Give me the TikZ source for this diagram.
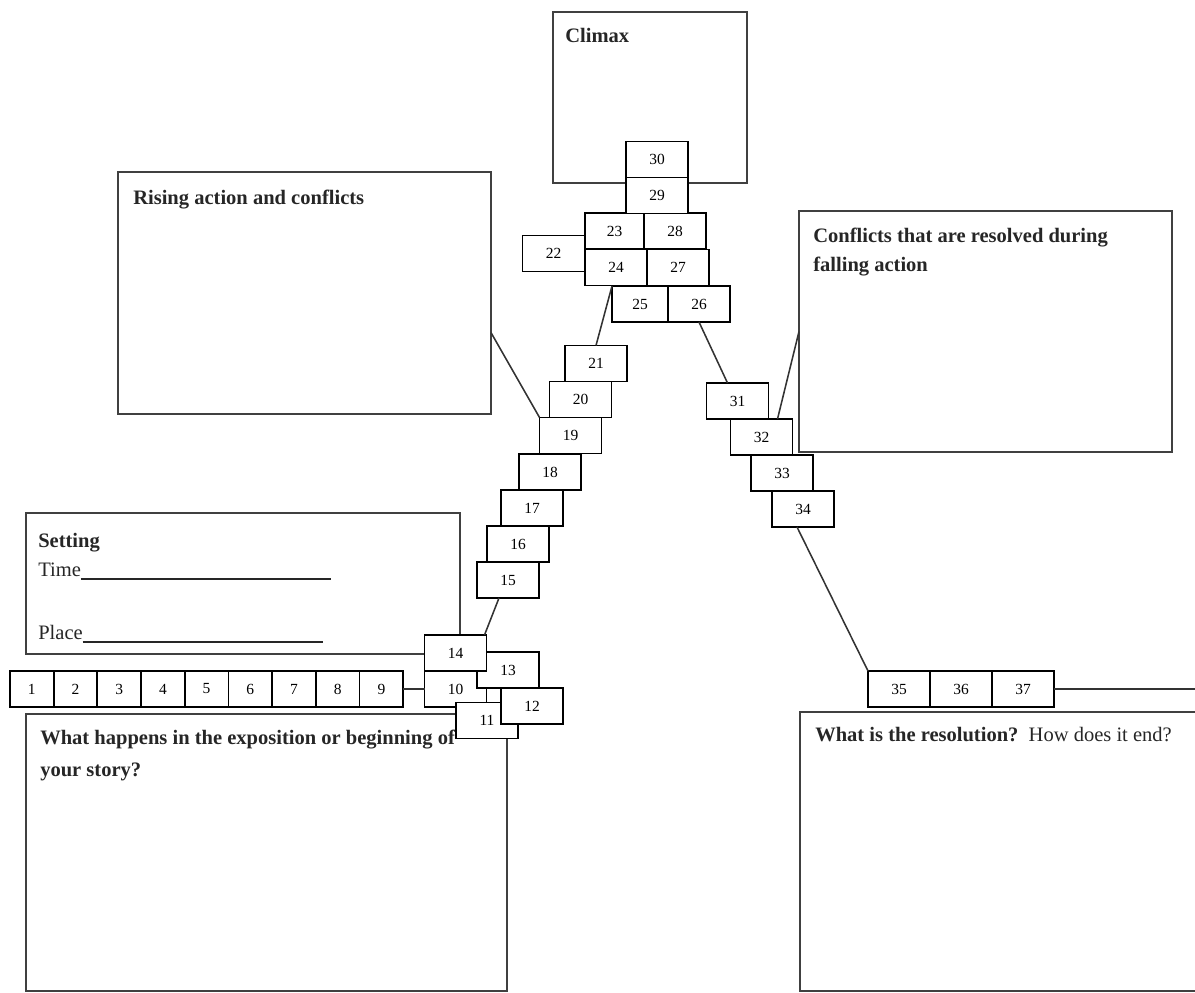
\documentclass[tikz,border=0pt]{standalone}
\usepackage{fontspec}
\setmainfont{Liberation Serif}
\usetikzlibrary{positioning}

\begin{document}
\begin{tikzpicture}
\tikzstyle{every node}=[font=\fontsize{11}{13}\selectfont]
\tikzstyle{bigbox}=[draw=black!75, line width=1.5pt, inner sep=0pt, outer sep=0pt]
\tikzstyle{nbox}=[draw, fill=white, line width=1.3pt, minimum width=1.55cm, minimum height=0.9cm, inner sep=0pt, outer sep=0pt]
\tikzstyle{cell}=[nbox, minimum width=1.0925cm]
\tikzstyle{heading}=[anchor=base west, inner sep=0pt, text=black!85, font=\fontsize{14.6}{17}\selectfont\bfseries]
\tikzstyle{bodytext}=[heading, font=\fontsize{14.6}{17}\selectfont]
\tikzstyle{link}=[line width=1.1pt, black!80]
\clip (0,0) rectangle (29.875,24.825);
\node (climax) [bigbox, minimum width=4.85cm, minimum height=4.275cm] at (16.25,22.3875) {};
\node (rising) [bigbox, minimum width=9.325cm, minimum height=6.05cm] at (7.6125,17.5) {};
\node (falling) [bigbox, minimum width=9.325cm, minimum height=6.025cm] at (24.6375,16.5375) {};
\node (setting) [bigbox, minimum width=10.85cm, minimum height=3.525cm] at (6.075,10.2375) {};
\node (expo) [bigbox, minimum width=12.025cm, minimum height=6.925cm] at (6.6625,3.5125) {};
\node (resol) [bigbox, minimum width=10.2cm, minimum height=6.975cm] at (25.1,3.5375) {};
\node (climaxtxt) [heading] at (14.125,23.75) {Climax};
\node (risingtxt) [heading] at (3.325,19.7) {Rising action and conflicts};
\node (fallingtxt) [heading] at (20.325,18.75) {Conflicts that are resolved during};
\node (fallingtxtb) [heading] at (20.325,18.025) {falling action};
\node (settingtxt) [heading] at (0.95,11.125) {Setting};
\node (timetxt) [bodytext] at (0.95,10.4) {Time\rule[-2pt]{6.25cm}{1.1pt}};
\node (placetxt) [bodytext] at (0.95,8.825) {Place\rule[-2pt]{6cm}{1.1pt}};
\node (expotxt) [heading] at (1.0,6.2) {What happens in the exposition or beginning of};
\node (expotxtb) [heading] at (1.0,5.4) {your story?};
\node (resoltxt) [heading] at (20.375,6.275) {What is the resolution?\ \ \textmd{How does it end?}};
\node (n1) [cell] at (0.795,7.6) {1};
\node (n2) [cell, right=0pt of n1] {2};
\node (n3) [cell, right=0pt of n2] {3};
\node (n4) [cell, right=0pt of n3] {4};
\node (n5) [cell, right=0pt of n4] {5};
\node (n6) [cell, right=0pt of n5] {6};
\node (n7) [cell, right=0pt of n6] {7};
\node (n8) [cell, right=0pt of n7] {8};
\node (n9) [cell, right=0pt of n8] {9};
\node (n10) [nbox] at (11.3875,7.6) {10};
\node (n11) [nbox] at (12.175,6.8125) {11};
\node (n12) [nbox] at (13.3,7.175) {12};
\node (n13) [nbox] at (12.7,8.075) {13};
\node (n14) [nbox, above=0pt of n10] {14};
\node (n15) [nbox] at (12.7,10.325) {15};
\node (n16) [nbox] at (12.95,11.225) {16};
\node (n17) [nbox] at (13.3,12.125) {17};
\node (n18) [nbox] at (13.75,13.025) {18};
\node (n19) [nbox] at (14.2625,13.9375) {19};
\node (n20) [nbox] at (14.5125,14.8375) {20};
\node (n21) [nbox] at (14.9,15.7375) {21};
\node (n22) [nbox] at (13.8375,18.4875) {22};
\node (n23) [nbox, minimum width=1.475cm] at (15.3625,19.05) {23};
\node (n24) [nbox] at (15.4,18.1375) {24};
\node (n25) [nbox, minimum width=1.4cm] at (16.0,17.225) {25};
\node (n26) [nbox, right=0pt of n25] {26};
\node (n27) [nbox, right=0pt of n24] {27};
\node (n28) [nbox, right=0pt of n23] {28};
\node (n29) [nbox] at (16.425,19.9375) {29};
\node (n30) [nbox, above=0pt of n29] {30};
\node (n31) [nbox] at (18.4375,14.8) {31};
\node (n32) [nbox] at (19.0375,13.9) {32};
\node (n33) [nbox] at (19.55,13.0) {33};
\node (n34) [nbox] at (20.075,12.1) {34};
\node (n35) [nbox] at (22.475,7.6) {35};
\node (n36) [nbox, right=0pt of n35] {36};
\node (n37) [nbox, right=0pt of n36] {37};
\coordinate (rend) at (30.2,7.6);
\draw [link] (n9) -- (n10);
\draw [link] ([xshift=-0.05cm]n14.north east) -- ([xshift=-0.225cm]n15.south);
\draw [link] (rising.-12) -- (n19.north west);
\draw [link] (n21.north) -- (n25.north west);
\draw [link] (n26.south) -- ([xshift=-0.25cm]n31.north);
\draw [link] ([xshift=0.4cm]n32.north) -- (falling.west);
\draw [link] ([xshift=-0.15cm]n34.south) -- (n35.north west);
\draw [link] (n37) -- (rend);
\end{tikzpicture}
\end{document}
